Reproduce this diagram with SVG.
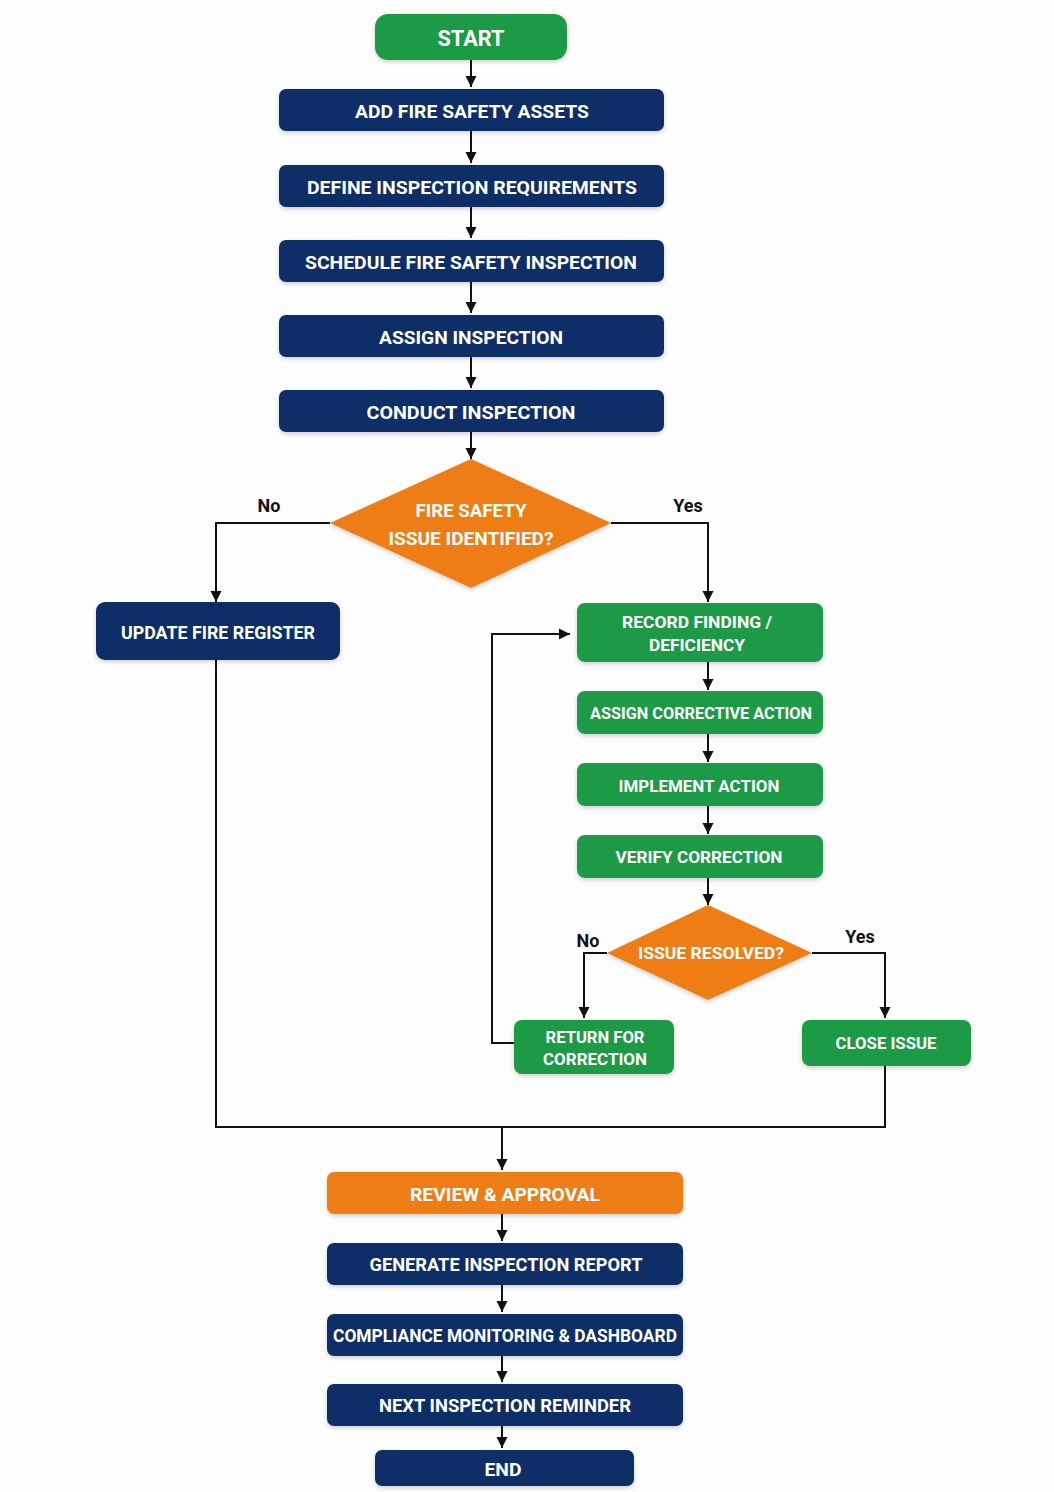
<svg xmlns="http://www.w3.org/2000/svg" width="1054" height="1492" viewBox="0 0 1054 1492">
<defs>
<marker id="ah" viewBox="0 0 10 10" refX="10" refY="5" markerWidth="11" markerHeight="12" markerUnits="userSpaceOnUse" orient="auto">
<path d="M0,0 L10,5 L0,10 z" fill="#111"/>
</marker>
<filter id="sh" x="-10%" y="-20%" width="120%" height="150%">
<feDropShadow dx="0" dy="2" stdDeviation="2" flood-color="#000" flood-opacity="0.18"/>
</filter>
</defs>
<style>
.blue{fill:#0d2d66;filter:url(#sh)}
.green{fill:#1f9a45;filter:url(#sh)}
.orange{fill:#ee7d14;filter:url(#sh)}
.t{font-family:Roboto,"Liberation Sans",sans-serif;font-weight:bold;font-size:18px;fill:#fff;text-anchor:middle;dominant-baseline:central}
.s{font-size:16.5px}
.lbl{font-family:Roboto,"Liberation Sans",sans-serif;font-weight:bold;font-size:18px;fill:#111;text-anchor:middle;dominant-baseline:central}
.c{fill:none;stroke:#111;stroke-width:2;marker-end:url(#ah)}
.cn{fill:none;stroke:#111;stroke-width:2}
</style>
<rect width="1054" height="1492" fill="#fdfdfd"/>
<g id="connectors">
<path class="c" d="M471,60 V87"/>
<path class="c" d="M471,131 V163"/>
<path class="c" d="M471,207 V238"/>
<path class="c" d="M471,282 V313"/>
<path class="c" d="M471,357 V388"/>
<path class="c" d="M471,432 V459"/>
<path class="c" d="M330,523 H216 V602"/>
<path class="c" d="M611,523 H708 V602"/>
<path class="c" d="M708,662 V690"/>
<path class="c" d="M708,734 V762"/>
<path class="c" d="M708,806 V834"/>
<path class="c" d="M708,878 V905"/>
<path class="c" d="M607,953 H584 V1018"/>
<path class="c" d="M812,953 H885 V1018"/>
<path class="c" d="M514,1043 H492 V634 H570"/>
<path class="cn" d="M216,660 V1127 H885 V1066"/>
<path class="c" d="M502,1127 V1170"/>
<path class="c" d="M502,1214 V1241"/>
<path class="c" d="M502,1285 V1312"/>
<path class="c" d="M502,1356 V1382"/>
<path class="c" d="M502,1426 V1448"/>
<text class="lbl" x="269" y="505">No</text>
<text class="lbl" x="688" y="505">Yes</text>
<text class="lbl" x="588" y="940">No</text>
<text class="lbl" x="860" y="936">Yes</text>
</g>
<g id="start"><rect class="green" x="375" y="14" width="192" height="46" rx="13"/><text class="t" x="471" y="38" style="font-size:22px" textLength="67" lengthAdjust="spacingAndGlyphs">START</text></g>
<g id="add-assets"><rect class="blue" x="279" y="89" width="385" height="42" rx="7"/><text class="t" x="472" y="111" textLength="234" lengthAdjust="spacingAndGlyphs">ADD FIRE SAFETY ASSETS</text></g>
<g id="define-req"><rect class="blue" x="279" y="165" width="385" height="42" rx="7"/><text class="t" x="472" y="187" textLength="330" lengthAdjust="spacingAndGlyphs">DEFINE INSPECTION REQUIREMENTS</text></g>
<g id="schedule"><rect class="blue" x="279" y="240" width="385" height="42" rx="7"/><text class="t" x="471" y="262" textLength="332" lengthAdjust="spacingAndGlyphs">SCHEDULE FIRE SAFETY INSPECTION</text></g>
<g id="assign-insp"><rect class="blue" x="279" y="315" width="385" height="42" rx="7"/><text class="t" x="471" y="337" textLength="184" lengthAdjust="spacingAndGlyphs">ASSIGN INSPECTION</text></g>
<g id="conduct"><rect class="blue" x="279" y="390" width="385" height="42" rx="7"/><text class="t" x="471" y="412" textLength="209" lengthAdjust="spacingAndGlyphs">CONDUCT INSPECTION</text></g>
<g id="decision-issue"><polygon class="orange" points="471,459 611,523 471,588 330,523"/><text class="t" x="471" y="510" textLength="111" lengthAdjust="spacingAndGlyphs">FIRE SAFETY</text><text class="t" x="471" y="538" textLength="165" lengthAdjust="spacingAndGlyphs">ISSUE IDENTIFIED?</text></g>
<g id="update-register"><rect class="blue" x="96" y="602" width="244" height="58" rx="9"/><text class="t" x="218" y="632" textLength="194" lengthAdjust="spacingAndGlyphs">UPDATE FIRE REGISTER</text></g>
<g id="record-finding"><rect class="green" x="577" y="603" width="246" height="59" rx="8"/><text class="t s" x="697" y="622" textLength="150" lengthAdjust="spacingAndGlyphs">RECORD FINDING /</text><text class="t s" x="697" y="645" textLength="96" lengthAdjust="spacingAndGlyphs">DEFICIENCY</text></g>
<g id="assign-corrective"><rect class="green" x="577" y="691" width="246" height="43" rx="8"/><text class="t s" x="701" y="713" textLength="222" lengthAdjust="spacingAndGlyphs">ASSIGN CORRECTIVE ACTION</text></g>
<g id="implement"><rect class="green" x="577" y="763" width="246" height="43" rx="8"/><text class="t s" x="699" y="786" textLength="161" lengthAdjust="spacingAndGlyphs">IMPLEMENT ACTION</text></g>
<g id="verify"><rect class="green" x="577" y="835" width="246" height="43" rx="8"/><text class="t s" x="699" y="857" textLength="167" lengthAdjust="spacingAndGlyphs">VERIFY CORRECTION</text></g>
<g id="decision-resolved"><polygon class="orange" points="708,905 812,953 708,1000 607,953"/><text class="t s" x="711" y="953" textLength="146" lengthAdjust="spacingAndGlyphs">ISSUE RESOLVED?</text></g>
<g id="return-correction"><rect class="green" x="514" y="1020" width="160" height="54" rx="8"/><text class="t s" x="595" y="1037" textLength="99" lengthAdjust="spacingAndGlyphs">RETURN FOR</text><text class="t s" x="595" y="1059" textLength="104" lengthAdjust="spacingAndGlyphs">CORRECTION</text></g>
<g id="close-issue"><rect class="green" x="802" y="1020" width="169" height="46" rx="8"/><text class="t s" x="886" y="1043" textLength="101" lengthAdjust="spacingAndGlyphs">CLOSE ISSUE</text></g>
<g id="review"><rect class="orange" x="327" y="1172" width="356" height="42" rx="7"/><text class="t" x="505" y="1194" textLength="190" lengthAdjust="spacingAndGlyphs">REVIEW &amp; APPROVAL</text></g>
<g id="report"><rect class="blue" x="327" y="1243" width="356" height="42" rx="7"/><text class="t" x="506" y="1264" textLength="273" lengthAdjust="spacingAndGlyphs">GENERATE INSPECTION REPORT</text></g>
<g id="compliance"><rect class="blue" x="327" y="1314" width="356" height="42" rx="7"/><text class="t" x="505" y="1335" textLength="344" lengthAdjust="spacingAndGlyphs">COMPLIANCE MONITORING &amp; DASHBOARD</text></g>
<g id="reminder"><rect class="blue" x="327" y="1384" width="356" height="42" rx="7"/><text class="t" x="505" y="1405" textLength="252" lengthAdjust="spacingAndGlyphs">NEXT INSPECTION REMINDER</text></g>
<g id="end"><rect class="blue" x="375" y="1450" width="259" height="36" rx="7"/><text class="t" x="503" y="1469" textLength="37" lengthAdjust="spacingAndGlyphs">END</text></g>
</svg>
